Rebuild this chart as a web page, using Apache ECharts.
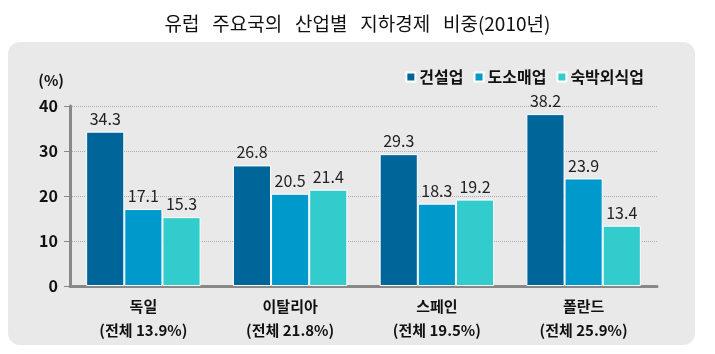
<!DOCTYPE html>
<html>
<head>
<meta charset="utf-8">
<script src="https://cdn.jsdelivr.net/npm/echarts@6/dist/echarts.min.js"></script>
<style>
  html, body { margin: 0; padding: 0; background: #fff; }
  #main { width: 715px; height: 354px; }
</style>
</head>
<body>
<div id="main"></div>
<script>
  // 데이터
  var countries = ['독일', '이탈리아', '스페인', '폴란드']
  var totals = [13.9, 21.8, 19.5, 25.9]
  var construction = [34.3, 26.8, 29.3, 38.2]   // 건설업
  var wholesale = [17.1, 20.5, 18.3, 23.9]      // 도소매업
  var lodging = [15.3, 21.4, 19.2, 13.4]        // 숙박외식업
  var seriesNames = ['건설업', '도소매업', '숙박외식업']
  var yTicks = [0, 10, 20, 30, 40]

  var font = '"Noto Sans CJK KR", "Noto Sans", sans-serif'
  var colors = ['#006699', '#0099cc', '#33cccc']

  var myChart = echarts.init(document.getElementById('main'))

  function barSeries (name, data, color) {
    return {
      name: name,
      type: 'bar',
      data: data,
      barGap: '0%',
      barCategoryGap: '22%',
      itemStyle: { color: color, borderColor: '#ffffff', borderWidth: 1 },
      label: {
        show: true,
        position: 'top',
        distance: 5,
        color: '#222',
        fontSize: 16,
        fontFamily: font,
        formatter: function (p) { return p.value.toFixed(1) }
      }
    }
  }

  var option = {
    backgroundColor: '#ffffff',
    color: colors,
    title: {
      text: '유럽   주요국의   산업별   지하경제   비중(2010년)',
      left: 'center',
      top: 9,
      textStyle: { fontFamily: font, fontSize: 19, fontWeight: 'normal', color: '#111' }
    },
    graphic: [{
      type: 'rect',
      z: -10,
      shape: { x: 8, y: 42, width: 687, height: 303, r: 12 },
      style: { fill: '#e9e9e9' }
    }],
    legend: {
      data: seriesNames,
      top: 64,
      right: 66,
      icon: 'rect',
      itemWidth: 9,
      itemHeight: 9,
      itemGap: 10,
      textStyle: { fontFamily: font, fontSize: 16, fontWeight: 'bold', color: '#111', padding: [0, 0, 0, -1] }
    },
    grid: { left: 70, right: 58, top: 106, bottom: 68 },
    xAxis: {
      type: 'category',
      data: countries,
      axisLine: { lineStyle: { color: '#888', width: 3 } },
      axisTick: { show: false },
      axisLabel: {
        margin: 8,
        interval: 0,
        formatter: function (v, i) {
          return '{a|' + v + '}\n{b|(전체 ' + totals[i].toFixed(1) + '%)}'
        },
        rich: {
          a: { fontFamily: font, fontSize: 15, fontWeight: 'bold', color: '#111', lineHeight: 24 },
          b: { fontFamily: font, fontSize: 15, fontWeight: 'bold', color: '#111', lineHeight: 24 }
        }
      }
    },
    yAxis: {
      type: 'value',
      min: yTicks[0],
      max: yTicks[yTicks.length - 1],
      interval: 10,
      name: '(%)',
      nameLocation: 'end',
      nameGap: 18,
      nameTextStyle: { fontFamily: font, fontSize: 15, fontWeight: 'bold', color: '#111', align: 'right', padding: [0, 6, 0, 0] },
      axisLine: { show: true, lineStyle: { color: '#888', width: 3 } },
      axisTick: { show: true, length: 6, lineStyle: { color: '#888', width: 1 } },
      axisLabel: { fontFamily: font, fontSize: 16, fontWeight: 'bold', color: '#111', margin: 12 },
      splitLine: { lineStyle: { color: '#aaa', type: 'dotted', width: 1 } }
    },
    series: [
      barSeries(seriesNames[0], construction, colors[0]),
      barSeries(seriesNames[1], wholesale, colors[1]),
      barSeries(seriesNames[2], lodging, colors[2])
    ]
  }
  myChart.setOption(option)
</script>
</body>
</html>
